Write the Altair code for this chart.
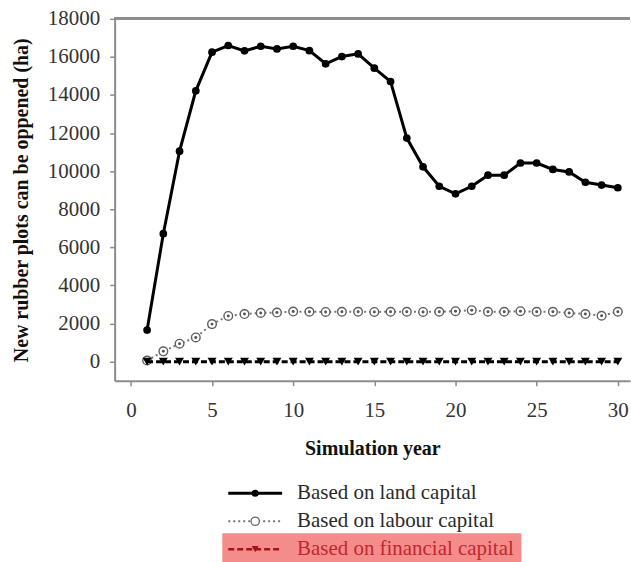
import altair as alt
import pandas as pd

# ---------------- data ----------------
years = list(range(1, 31))
land = [1660, 6720, 11050, 14220, 16250, 16600, 16320, 16560, 16420, 16560,
        16330, 15640, 16020, 16160, 15410, 14710, 11740, 10230, 9210, 8810,
        9210, 9790, 9790, 10430, 10430, 10090, 9960, 9420, 9270, 9130]
labour = [60, 540, 940, 1270, 1970, 2400, 2500, 2560, 2580, 2630,
          2620, 2610, 2620, 2620, 2610, 2620, 2620, 2610, 2620, 2650,
          2700, 2620, 2620, 2650, 2620, 2620, 2550, 2500, 2410, 2620]
financial = [0, 0, 0, 0, 0, 0, 0, 0, 0, 0,
             0, 0, 0, 0, 0, 0, 0, 0, 0, 0,
             0, 0, 0, 0, 0, 0, 0, 0, 0, 0]
series_names = ["Based on land capital", "Based on labour capital",
                "Based on financial capital"]
x_ticks = [0, 5, 10, 15, 20, 25, 30]
y_ticks = [0, 2000, 4000, 6000, 8000, 10000, 12000, 14000, 16000, 18000]

df = pd.DataFrame({
    "year": years * 3,
    "value": land + labour + financial,
    "series": [series_names[0]] * 30 + [series_names[1]] * 30 + [series_names[2]] * 30,
})
leg = pd.DataFrame({"series": series_names})

FONT = "'Liberation Serif', 'DejaVu Serif', serif"
AX = "#8c8c8c"

x_enc = alt.X("year:Q",
              scale=alt.Scale(domain=[-1, 30.75], nice=False, zero=False),
              axis=alt.Axis(values=x_ticks, title="Simulation year",
                            labelPadding=14, titlePadding=18))
y_enc = alt.Y("value:Q",
              scale=alt.Scale(domain=[-1000, 18000], nice=False, zero=False),
              axis=alt.Axis(values=y_ticks, format="d",
                            title="New rubber plots can be oppened (ha)",
                            labelPadding=10, titlePadding=16))

base = alt.Chart(df).encode(x=x_enc, y=y_enc)

def sel(i):
    return alt.datum.series == series_names[i]

land_line = base.transform_filter(sel(0)).mark_line(color="black", strokeWidth=3)
land_pts = base.transform_filter(sel(0)).mark_point(
    shape="circle", filled=True, color="black", size=60, opacity=1)

lab_line = base.transform_filter(sel(1)).mark_line(
    color="#777777", strokeWidth=2, strokeDash=[2, 3])
lab_pts = base.transform_filter(sel(1)).mark_point(
    shape="circle", filled=True, fill="white", stroke="#5f5f5f",
    strokeWidth=1.4, size=75, opacity=1)
lab_dot = base.transform_filter(sel(1)).mark_point(
    shape="circle", filled=True, color="#555555", size=9, opacity=1)

fin_line = base.transform_filter(sel(2)).mark_line(
    color="black", strokeWidth=3, strokeDash=[6, 3])
fin_pts = base.transform_filter(sel(2)).mark_point(
    shape="triangle-down", filled=True, color="black", size=80, opacity=1)

top_rule = alt.Chart(df).mark_rule(color=AX, strokeWidth=2).encode(
    y=alt.datum(18000))

# ---------------- manual legend ----------------
lb = alt.Chart(leg)
rows_y = [476, 504, 532]
LX1, LX2, LPX, TX = 114, 168, 141, 183

hl = lb.transform_filter(sel(2)).mark_rect(color="#f58c8c").encode(
    x=alt.value(108), x2=alt.value(408), y=alt.value(516), y2=alt.value(546))

l1 = lb.transform_filter(sel(0)).mark_rule(color="black", strokeWidth=3).encode(
    x=alt.value(LX1), x2=alt.value(LX2), y=alt.value(rows_y[0]))
p1 = lb.transform_filter(sel(0)).mark_point(
    shape="circle", filled=True, color="black", size=50, opacity=1).encode(
    x=alt.value(LPX), y=alt.value(rows_y[0]))
l2 = lb.transform_filter(sel(1)).mark_rule(
    color="#777777", strokeWidth=2, strokeDash=[2, 3]).encode(
    x=alt.value(LX1), x2=alt.value(LX2), y=alt.value(rows_y[1]))
p2 = lb.transform_filter(sel(1)).mark_point(
    shape="circle", filled=True, fill="white", stroke="#6a6a6a",
    strokeWidth=1.3, size=70, opacity=1).encode(
    x=alt.value(LPX), y=alt.value(rows_y[1]))
l3 = lb.transform_filter(sel(2)).mark_rule(
    color="#a31515", strokeWidth=2.5, strokeDash=[6, 3]).encode(
    x=alt.value(LX1), x2=alt.value(LX2), y=alt.value(rows_y[2]))
p3 = lb.transform_filter(sel(2)).mark_point(
    shape="triangle-down", filled=True, color="#a31515", size=50, opacity=1).encode(
    x=alt.value(LPX), y=alt.value(rows_y[2]))

def txt(i, color):
    return lb.transform_filter(sel(i)).mark_text(
        align="left", baseline="middle", font=FONT, fontSize=21, color=color).encode(
        x=alt.value(TX), y=alt.value(rows_y[i]), text="series:N")

chart = alt.layer(
    top_rule, land_line, land_pts, lab_line, lab_pts, lab_dot, fin_line, fin_pts,
    hl, l1, p1, l2, p2, l3, p3, txt(0, "#2a2a2a"), txt(1, "#2a2a2a"), txt(2, "#c0282d"),
).properties(
    width=517, height=363,
    padding={"left": 11, "top": 7, "right": 0, "bottom": 0},
).configure_view(stroke=None).configure_axis(
    grid=False, domainColor=AX, domainWidth=2, tickColor=AX, tickWidth=1.5,
    tickSize=5, labelFont=FONT, labelFontSize=21, labelColor="#333333",
    titleFont=FONT, titleFontSize=20, titleFontWeight="bold", titleColor="#111111",
)

chart.save("out.html", embed_options={"renderer": "svg", "actions": False})
